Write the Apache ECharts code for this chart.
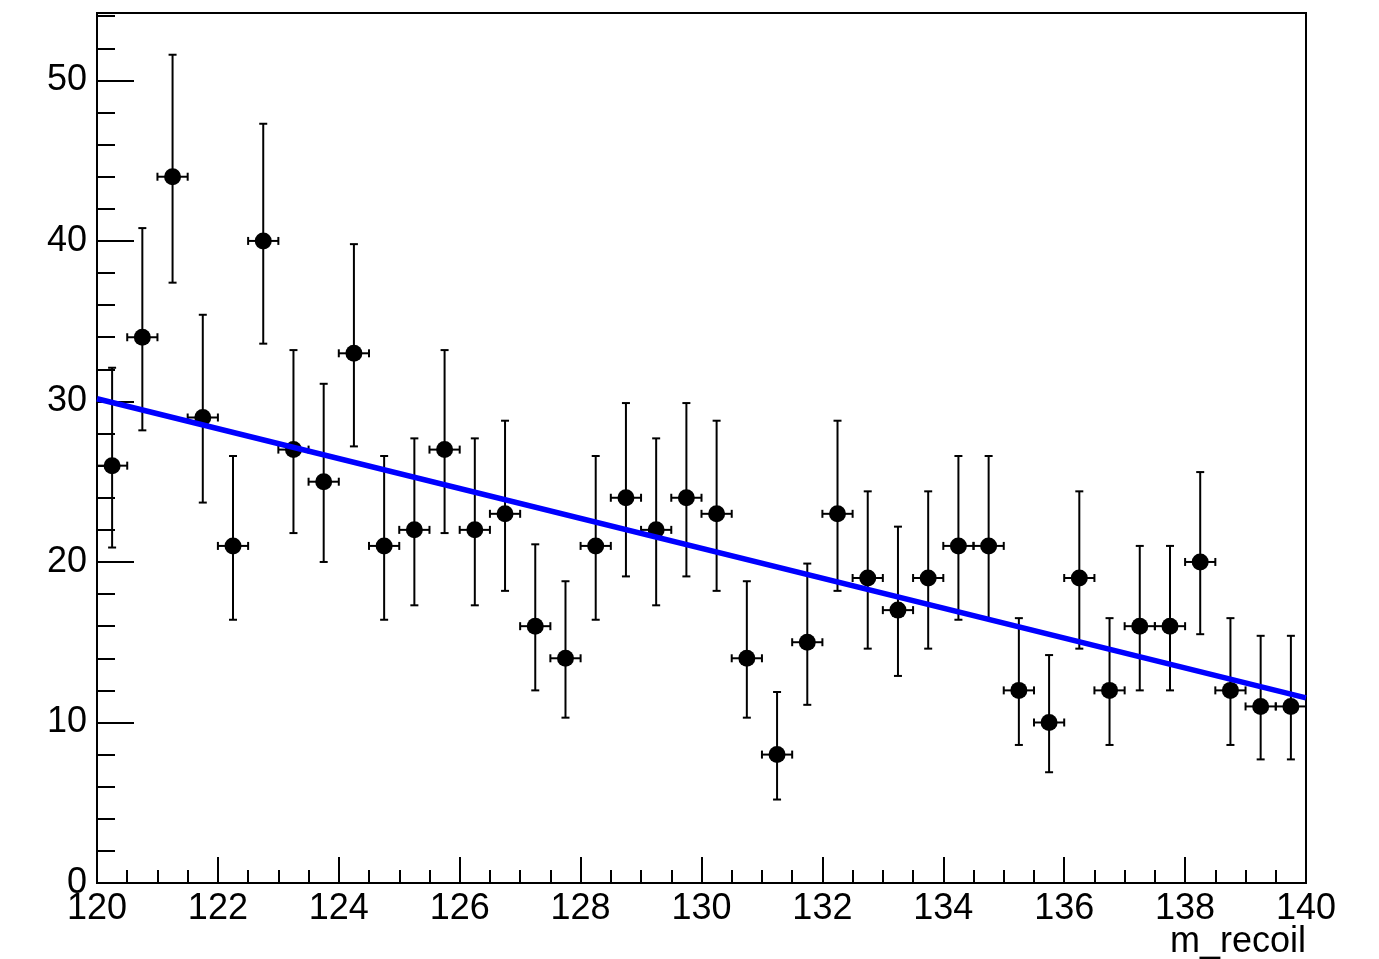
<!DOCTYPE html>
<html>
<head>
<meta charset="utf-8">
<script src="https://cdn.jsdelivr.net/npm/echarts@6/dist/echarts.min.js"></script>
<style>
  html, body { margin: 0; padding: 0; background: #fff; }
  #main { width: 1379px; height: 959px; }
</style>
</head>
<body>
<div id="main"></div>
<script>
// bins of m_recoil, 0.5 wide
var binWidth = 0.5;
var binCenters = [120.25, 120.75, 121.25, 121.75, 122.25, 122.75, 123.25, 123.75, 124.25, 124.75,
                  125.25, 125.75, 126.25, 126.75, 127.25, 127.75, 128.25, 128.75, 129.25, 129.75,
                  130.25, 130.75, 131.25, 131.75, 132.25, 132.75, 133.25, 133.75, 134.25, 134.75,
                  135.25, 135.75, 136.25, 136.75, 137.25, 137.75, 138.25, 138.75, 139.25, 139.75];
var counts = [26, 34, 44, 29, 21, 40, 27, 25, 33, 21,
              22, 27, 22, 23, 16, 14, 21, 24, 22, 24,
              23, 14, 8, 15, 23, 19, 17, 19, 21, 21,
              12, 10, 19, 12, 16, 16, 20, 12, 11, 11];
// error bar ends (lower / upper)
var errLow = [20.9, 28.2, 37.4, 23.7, 16.4, 33.6, 21.8, 20.0, 27.2, 16.4,
              17.3, 21.8, 17.3, 18.2, 12.0, 10.3, 16.4, 19.1, 17.3, 19.1,
              18.2, 10.3, 5.2, 11.1, 18.2, 14.6, 12.9, 14.6, 16.4, 16.4,
              8.6, 6.9, 14.6, 8.6, 12.0, 12.0, 15.5, 8.6, 7.7, 7.7];
var errHigh = [32.1, 40.8, 51.6, 35.4, 26.6, 47.3, 33.2, 31.1, 39.8, 26.6,
               27.7, 33.2, 27.7, 28.8, 21.1, 18.8, 26.6, 29.9, 27.7, 29.9,
               28.8, 18.8, 11.9, 19.9, 28.8, 24.4, 22.2, 24.4, 26.6, 26.6,
               16.5, 14.2, 24.4, 16.5, 21.0, 21.0, 25.6, 16.5, 15.4, 15.4];
// linear fit
var fitX = [120, 140];
var fitY = [30.17, 11.53];

var xMin = 120, xMax = 140, yMax = 54.2;
var font = '"Liberation Sans", Arial, Helvetica, sans-serif';
var fontSize = 36;

var errData = binCenters.map(function (x, i) {
  return [x, counts[i], errLow[i], errHigh[i]];
});
var pointData = binCenters.map(function (x, i) { return [x, counts[i]]; });
var fitData = fitX.map(function (x, i) { return [x, fitY[i]]; });

function renderErr(params, api) {
  var x = api.value(0), y = api.value(1);
  var c = api.coord([x, y]);
  var top = api.coord([x, api.value(3)]);
  var bot = api.coord([x, api.value(2)]);
  var left = api.coord([x - binWidth / 2, y]);
  var right = api.coord([x + binWidth / 2, y]);
  var cap = 4;
  var st = { stroke: '#000', lineWidth: 2 };
  function seg(x1, y1, x2, y2) {
    return { type: 'line', shape: { x1: x1, y1: y1, x2: x2, y2: y2 }, style: st };
  }
  return {
    type: 'group',
    children: [
      seg(c[0], top[1], c[0], bot[1]),
      seg(c[0] - cap, top[1], c[0] + cap, top[1]),
      seg(c[0] - cap, bot[1], c[0] + cap, bot[1]),
      seg(left[0], c[1], right[0], c[1]),
      seg(left[0], c[1] - cap, left[0], c[1] + cap),
      seg(right[0], c[1] - cap, right[0], c[1] + cap)
    ]
  };
}

var chart = echarts.init(document.getElementById('main'), null, { renderer: 'canvas' });
chart.setOption({
  animation: false,
  backgroundColor: '#fff',
  grid: {
    left: 97, right: 73, top: 13, bottom: 76,
    containLabel: false, outerBoundsMode: 'none',
    show: true, borderColor: '#000', borderWidth: 2, backgroundColor: 'transparent'
  },
  // axis title, right-aligned under the end of the x axis
  graphic: [{
    type: 'text',
    right: 73,
    top: 924,
    style: { text: 'm_recoil', fill: '#000', font: fontSize + 'px ' + font }
  }],
  xAxis: {
    type: 'value', min: xMin, max: xMax, interval: 2,
    axisLine: { lineStyle: { color: '#000', width: 2 } },
    axisTick: { inside: true, length: 26, lineStyle: { color: '#000', width: 2 } },
    minorTick: { show: true, splitNumber: 4, length: 13, lineStyle: { color: '#000', width: 2 } },
    axisLabel: { color: '#000', fontFamily: font, fontSize: fontSize, margin: 8 },
    splitLine: { show: false }
  },
  yAxis: [{
    type: 'value', min: 0, max: yMax, interval: 10,
    axisLine: { lineStyle: { color: '#000', width: 2 } },
    axisTick: { inside: true, length: 37, lineStyle: { color: '#000', width: 2 } },
    axisLabel: {
      color: '#000', fontFamily: font, fontSize: fontSize, margin: 10,
      showMaxLabel: false,
      formatter: function (v) { return v % 10 === 0 ? String(v) : ''; }
    },
    splitLine: { show: false }
  }, {
    type: 'value', min: 0, max: yMax, interval: 2, position: 'left',
    axisLine: { show: false },
    axisTick: { inside: true, length: 18, lineStyle: { color: '#000', width: 2 } },
    axisLabel: { show: false },
    splitLine: { show: false }
  }],
  series: [{
    type: 'custom',
    renderItem: renderErr,
    data: errData,
    encode: { x: 0, y: 1 },
    z: 2
  }, {
    type: 'scatter',
    data: pointData,
    symbol: 'circle',
    symbolSize: 17,
    itemStyle: { color: '#000', opacity: 1 },
    z: 3
  }, {
    type: 'line',
    data: fitData,
    showSymbol: false,
    lineStyle: { color: '#0000ff', width: 5.5 },
    z: 4
  }]
});
</script>
</body>
</html>
